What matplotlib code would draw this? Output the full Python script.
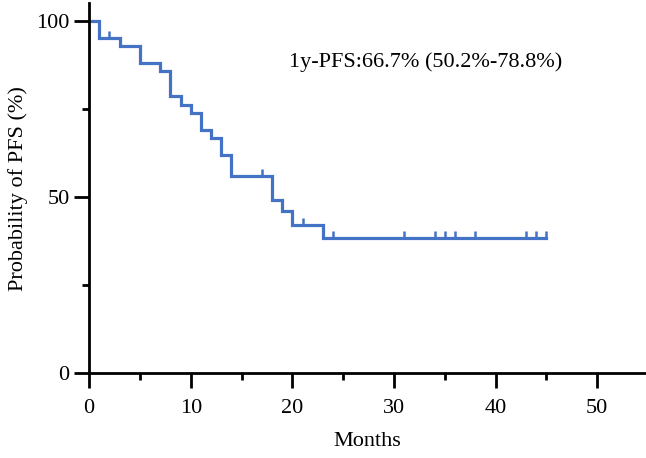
import matplotlib
matplotlib.use("Agg")
import matplotlib.pyplot as plt
import numpy as np

# Kaplan-Meier step data
event_times = [0, 1, 3, 5, 7, 8, 9, 10, 11, 12, 13, 14, 18, 19, 20, 23]
survival = [100, 95.2, 92.9, 88.1, 85.7, 78.6, 76.2, 73.8, 69.0, 66.7,
            61.9, 55.9, 49.1, 45.9, 42.0, 38.4]
end_time = 45
censor_times = [2, 17, 21, 24, 31, 34, 35, 36, 38, 43, 44, 45]

x_ticks = [0, 10, 20, 30, 40, 50]
y_ticks = [0, 50, 100]
annotation = "1y-PFS:66.7% (50.2%-78.8%)"

plt.rcParams["font.family"] = ["Liberation Serif", "DejaVu Serif"]
blue = "#4472C4"

fig = plt.figure(figsize=(6.46, 4.58), dpi=100)
ax = fig.add_axes([0.138, 0.1856, 0.862, 0.807])

t = event_times + [end_time]
s = survival + [survival[-1]]
ax.step(t, s, where="post", color=blue, lw=2.3, solid_joinstyle="miter")

idx = np.searchsorted(event_times, censor_times, side="right") - 1
censor_s = np.array(survival)[idx]
ax.plot(censor_times, censor_s, linestyle="none", marker=2, markersize=5,
        markeredgewidth=1.8, color=blue)

ax.text(19.7, 88.4, annotation, fontsize=16, va="center", ha="left")

ax.set_xlim(0, 54.8)
ax.set_ylim(0, 105)
ax.set_xticks(x_ticks)
ax.set_xticks(np.arange(5, 55, 10), minor=True)
ax.set_yticks(y_ticks)
ax.set_yticks([25, 75], minor=True)

for side in ["top", "right"]:
    ax.spines[side].set_visible(False)
for side in ["left", "bottom"]:
    ax.spines[side].set_linewidth(2)

ax.tick_params(which="major", length=11, width=2, labelsize=16)
ax.tick_params(which="minor", length=5, width=2)
ax.tick_params(axis="x", pad=8)
ax.tick_params(axis="y", pad=3)

ax.set_xlabel("Months", fontsize=16, labelpad=10)
ax.set_ylabel("Probability of PFS (%)", fontsize=16, labelpad=6)

fig.savefig("out.png", dpi=100)
